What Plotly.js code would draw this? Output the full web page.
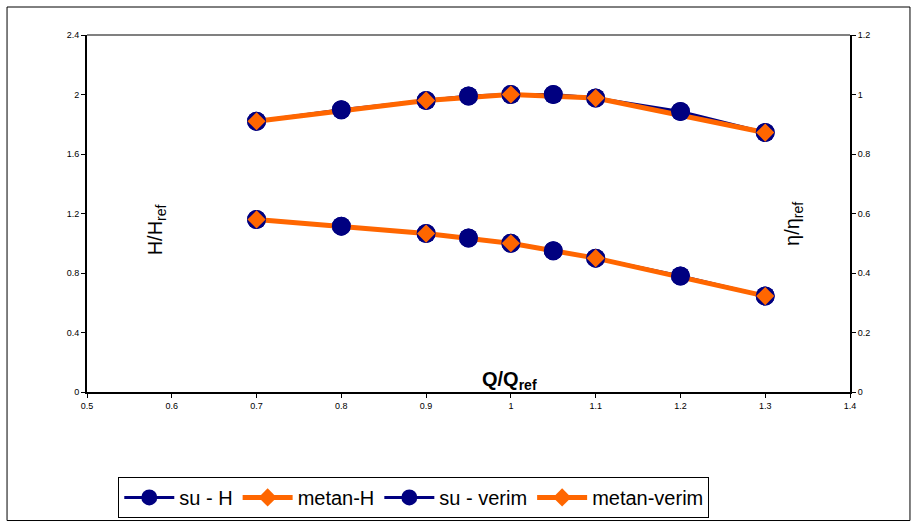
<!DOCTYPE html>
<html>
<head>
<meta charset="utf-8">
<script src="https://cdn.plot.ly/plotly-3.0.1.min.js"></script>
<style>html,body{margin:0;padding:0;background:#fff;}#chart{width:917px;height:523px;}</style>
</head>
<body>
<div id="chart"></div>
<script>
// Data
const Q_su = [0.7, 0.8, 0.9, 0.95, 1.0, 1.05, 1.1, 1.2, 1.3];
const H_su = [1.16, 1.115, 1.065, 1.035, 1.0, 0.95, 0.9, 0.78, 0.645];
const eta_su = [0.91, 0.949, 0.98, 0.995, 1.0, 1.0, 0.988, 0.943, 0.872];

const Q_metan = [0.7, 0.9, 1.0, 1.1, 1.3];
const H_metan = [1.16, 1.065, 1.0, 0.9, 0.645];
const eta_metan = [0.91, 0.98, 1.0, 0.988, 0.872];

const seriesNames = ["su - H", "metan-H", "su - verim", "metan-verim"];
const xTitle = "Q/Q<sub>ref</sub>";
const yTitle = "H/H<sub>ref</sub>";
const y2Title = "η/η<sub>ref</sub>";

const BLUE = "#000080";
const ORANGE = "#FF6600";
const FONT = "Liberation Sans, Arial, sans-serif";

function suTrace(x, y, name, axis, mode, legend) {
  return {x: x, y: y, name: name, yaxis: axis, type: "scatter", mode: mode, showlegend: legend,
    line: {color: BLUE, width: 3}, marker: {symbol: "circle", size: 19, color: BLUE, line: {width: 0}},
    hoverinfo: "x+y+name"};
}
function metanTrace(x, y, name, axis, mode, legend) {
  return {x: x, y: y, name: name, yaxis: axis, type: "scatter", mode: mode, showlegend: legend,
    line: {color: ORANGE, width: 5}, marker: {symbol: "diamond", size: 14, color: ORANGE, line: {width: 0}},
    hoverinfo: "x+y+name"};
}

const data = [
  suTrace(Q_su, H_su, seriesNames[0], "y", "lines+markers", true),
  metanTrace(Q_metan, H_metan, seriesNames[1], "y", "lines+markers", true),
  suTrace(Q_su, eta_su, seriesNames[2], "y2", "lines+markers", true),
  metanTrace(Q_metan, eta_metan, seriesNames[3], "y2", "lines+markers", true),
  // markers redrawn on top of the lines (as in the original)
  suTrace(Q_su, H_su, seriesNames[0], "y", "markers", false),
  suTrace(Q_su, eta_su, seriesNames[2], "y2", "markers", false),
  metanTrace(Q_metan, H_metan, seriesNames[1], "y", "markers", false),
  metanTrace(Q_metan, eta_metan, seriesNames[3], "y2", "markers", false)
];

const axisCommon = {
  showgrid: false, zeroline: false, showline: true, linecolor: "#000", linewidth: 2,
  ticks: "outside", ticklen: 4, tickwidth: 1, tickcolor: "#000",
  tickfont: {family: FONT, size: 9, color: "#000"}
};

const layout = {
  width: 917, height: 523,
  margin: {l: 87, r: 67, t: 35, b: 131, pad: 0, autoexpand: false},
  paper_bgcolor: "#fff", plot_bgcolor: "#fff",
  font: {family: FONT, color: "#000"},
  showlegend: true,
  legend: {
    orientation: "h", x: 0.041, xanchor: "left", y: -0.238, yanchor: "top",
    bordercolor: "#000", borderwidth: 1, bgcolor: "#fff",
    font: {family: FONT, size: 20, color: "#000"},
    traceorder: "normal", itemwidth: 50, tracegroupgap: 0
  },
  xaxis: Object.assign({}, axisCommon, {range: [0.5, 1.4], dtick: 0.1, tick0: 0.5}),
  yaxis: Object.assign({}, axisCommon, {range: [0, 2.4], dtick: 0.4, tick0: 0}),
  yaxis2: Object.assign({}, axisCommon, {range: [0, 1.2], dtick: 0.2, tick0: 0, overlaying: "y", side: "right"}),
  shapes: [
    {type: "line", xref: "paper", yref: "paper", x0: 0, x1: 1, y0: 1, y1: 1, line: {color: "#808080", width: 2}},
    {type: "rect", xref: "paper", yref: "paper", x0: -0.1048, x1: 1.0786, y0: -0.36, y1: 1.0784,
     line: {color: "#000", width: 1}}
  ],
  annotations: [
    {text: yTitle, xref: "paper", yref: "paper", x: 0.072, y: 0.454, showarrow: false, textangle: -90,
     font: {family: FONT, size: 20, color: "#000"}},
    {text: y2Title, xref: "paper", yref: "paper", x: 0.944, y: 0.47, showarrow: false, textangle: -90,
     font: {family: FONT, size: 20, color: "#000"}},
    {text: "<b>" + xTitle + "</b>", xref: "paper", yref: "paper", x: 0.554, y: -0.008, yanchor: "bottom",
     showarrow: false, font: {family: FONT, size: 20, color: "#000"}}
  ]
};

Plotly.newPlot("chart", data, layout, {displayModeBar: false, staticPlot: true});
</script>
</body>
</html>
